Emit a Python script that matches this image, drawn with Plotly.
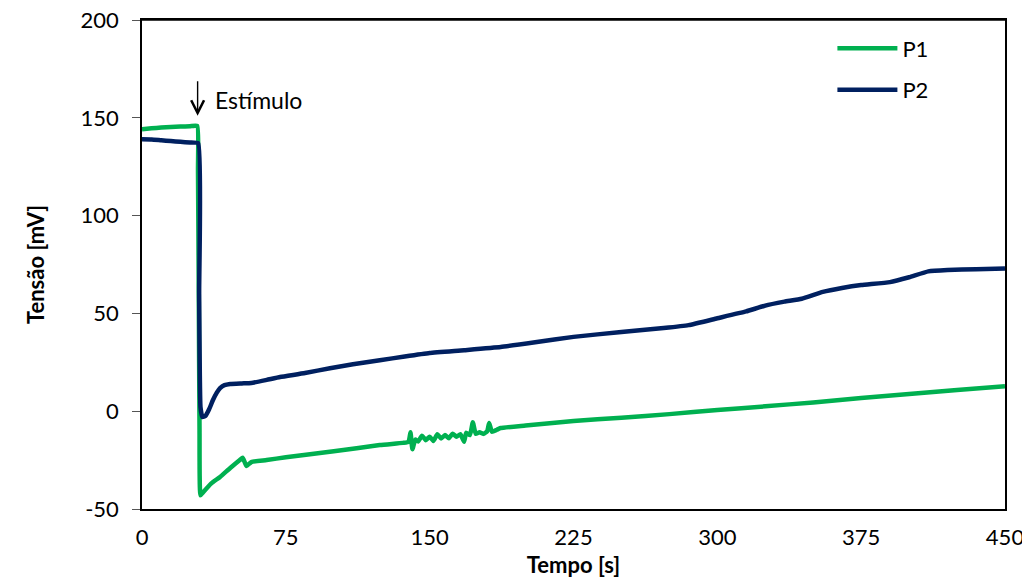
import plotly.graph_objects as go

# ---- data ----
p1_t = [0, 5, 10, 15, 20, 25, 28.8, 29.2, 29.6, 30.0, 30.5, 32, 36, 40.7, 46, 51, 52.5, 54.5, 57, 65,
        75, 100, 124, 136, 139, 140, 141, 142.5, 144, 146, 148, 150, 152, 154, 156, 158, 160, 162,
        164, 166, 168, 169, 171, 172.5, 174, 176, 178, 180, 181, 182.5, 185, 187, 200, 225, 250,
        275, 300, 325, 350, 375, 400, 425, 450]
p1_v = [144.1, 144.6, 145.0, 145.3, 145.5, 145.7, 145.9, 123, 60, -10, -43, -41.3, -37, -33.6, -29, -25,
        -23.8, -28, -26, -25, -23.5, -20.5, -17.3, -16.2, -15.7, -10.8, -19.5, -14.5, -15.5, -12.5,
        -14.8, -13.0, -15.2, -11.8, -14.0, -12.2, -13.8, -11.5, -13.0, -11.8, -15.6, -11.0, -12.2,
        -5.6, -11.5, -10.8, -11.6, -10.2, -6.0, -10.5, -9.5, -8.6, -7.3, -5.0, -3.3, -1.5, 0.6,
        2.5, 4.5, 6.7, 8.8, 10.8, 12.8]

p2_t = [0, 5, 10, 15, 20, 25, 29.3, 29.8, 30.5, 31.5, 33, 35, 37, 39, 40.7, 43, 46, 52, 57, 65, 72,
        85, 98, 110, 124, 137, 150, 168, 187, 205, 225, 250, 272, 285, 300, 315, 325, 335, 344,
        355, 365, 375, 390, 400, 410, 420, 435, 450]
p2_v = [139.0, 138.9, 138.5, 138.1, 137.7, 137.4, 137.0, 60, 2, -3, -2.5, 1.0, 5.7, 9.5, 11.8, 13.3,
        13.9, 14.2, 14.4, 16.0, 17.5, 19.5, 22, 24, 26, 28, 29.8, 31.2, 32.8, 35.2, 38, 40.5,
        42.5, 44, 47.5, 51, 54, 56, 57.5, 61, 63, 64.5, 66, 68.5, 71.5, 72.2, 72.6, 73]

series_names = ["P1", "P2"]
series_colors = ["#00B050", "#002060"]

x_ticks = [0, 75, 150, 225, 300, 375, 450]
y_ticks = [-50, 0, 50, 100, 150, 200]
y_tick_labels = ["-50", "0", "50", "100", "150", "200"]

FONT = "Lato"

fig = go.Figure()
for i, (t, v) in enumerate([(p1_t, p1_v), (p2_t, p2_v)]):
    fig.add_trace(go.Scatter(
        x=t, y=v, mode="lines", name=series_names[i],
        line=dict(color=series_colors[i], width=4.5, shape="spline", smoothing=0.4),
        legendgroup=series_names[i],
    ))

fig.add_annotation(x=29, y=151, xref="x", yref="y", ax=0, ay=-36,
                   showarrow=True, arrowhead=5, arrowsize=1.8, arrowwidth=1.4,
                   arrowcolor="black", text="")
fig.add_annotation(x=37, y=159, xref="x", yref="y", text="Estímulo", showarrow=False,
                   xanchor="left", yanchor="middle",
                   font=dict(family=FONT, size=23, color="black"))

# top frame edge, drawn explicitly so it is always visible
fig.add_shape(type="line", xref="paper", yref="paper", x0=0, x1=1, y0=1, y1=1,
              line=dict(color="black", width=1.5))

# the page body has an 8px margin; size the figure so it fits in the window
fig.update_layout(
    width=1022, height=578,
    margin=dict(l=134, r=25, t=12, b=77),
    paper_bgcolor="white", plot_bgcolor="white",
    font=dict(family=FONT, size=22, color="black"),
    legend=dict(x=0.80, y=0.985, xanchor="left", yanchor="top",
                font=dict(family=FONT, size=22, color="black"),
                bgcolor="rgba(0,0,0,0)", itemwidth=60, tracegroupgap=10),
    xaxis=dict(range=[0, 450], tickvals=x_ticks, ticks="", showgrid=False, zeroline=False,
               showline=True, mirror=True, linecolor="black", linewidth=1.5, automargin=False,
               ticklabeloverflow="allow",
               tickfont=dict(family=FONT, size=22), ticklabelstandoff=8,
               title=dict(text="<b>Tempo [s]</b>", font=dict(family=FONT, size=22), standoff=8)),
    yaxis=dict(range=[-50, 200], tickvals=y_ticks, ticktext=y_tick_labels,
               ticks="outside", ticklen=8, tickcolor="#555",
               showgrid=False, zeroline=False, automargin=False,
               ticklabeloverflow="allow",
               showline=True, mirror=True, linecolor="black", linewidth=1.5,
               tickfont=dict(family=FONT, size=22), ticklabelstandoff=9,
               title=dict(text="<b>Tensão [mV]</b>", font=dict(family=FONT, size=22), standoff=30)),
)

fig.write_html("out.html")
